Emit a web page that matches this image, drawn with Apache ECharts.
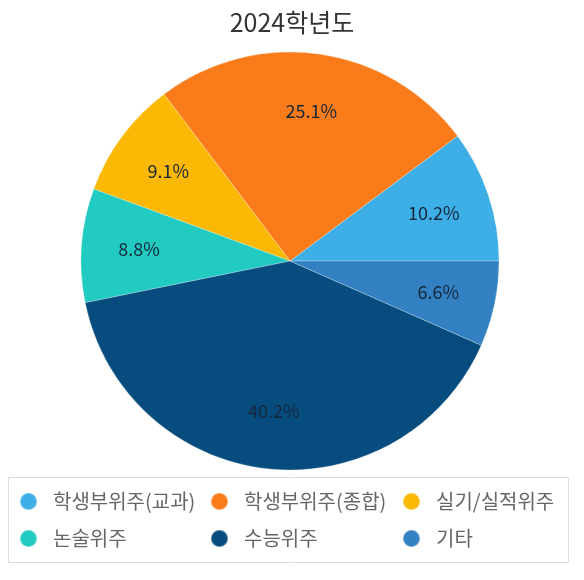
<!DOCTYPE html>
<html>
<head>
<meta charset="utf-8">
<script src="https://cdn.jsdelivr.net/npm/echarts@6/dist/echarts.min.js"></script>
<style>
html,body{margin:0;padding:0;background:#fff;}
#chartDiv{width:584px;height:580px;}
</style>
</head>
<body>
<div id="chartDiv"></div>
<script>
// 데이터
var categories = ['학생부위주(교과)', '학생부위주(종합)', '실기/실적위주', '논술위주', '수능위주', '기타'];
var values = [10.2, 25.1, 9.1, 8.8, 40.2, 6.6];
var colors = ['#3eaee6', '#f97b19', '#fbb905', '#22cbc1', '#064c7e', '#3381c2'];
var titleText = '2024학년도';

var fontName = '"Noto Sans CJK KR", "Noto Sans", sans-serif';

var pieData = [];
var labelData = [];
for (var i = 0; i < categories.length; i++) {
	pieData.push({ name: categories[i], value: values[i], itemStyle: { color: colors[i] } });
	labelData.push({ name: categories[i], value: values[i] });
}

// 범례 3열
function makeLegend(names, left) {
	return {
		orient: 'vertical',
		left: left,
		top: 487,
		itemGap: 8,
		itemWidth: 17,
		itemHeight: 17,
		icon: 'circle',
		padding: 0,
		data: names,
		textStyle: {
			fontFamily: fontName,
			fontSize: 20,
			color: '#666',
			lineHeight: 29,
			padding: [0, 0, 0, 11]
		}
	};
}

var myChart = echarts.init(document.getElementById('chartDiv'));
var option = {
	animation: false,
	title: {
		text: titleText,
		left: 'center',
		top: 5,
		textStyle: { fontFamily: fontName, fontSize: 25, fontWeight: 'normal', color: '#333' }
	},
	legend: [
		makeLegend([categories[0], categories[3]], 19),
		makeLegend([categories[1], categories[4]], 210),
		makeLegend([categories[2], categories[5]], 402)
	],
	graphic: [{
		type: 'rect',
		shape: { x: 8.5, y: 477.5, width: 560, height: 85 },
		style: { fill: 'none', stroke: '#ddd', lineWidth: 1 },
		silent: true
	}],
	series: [{
		type: 'pie',
		center: [290, 261],
		radius: [0, 209],
		startAngle: 0,
		clockwise: false,
		label: { show: false },
		labelLine: { show: false },
		itemStyle: { borderColor: 'rgba(255,255,255,0.25)', borderWidth: 1 },
		emphasis: { disabled: true },
		data: pieData
	}, {
		// 라벨 위치용 투명 시리즈
		type: 'pie',
		center: [290, 261],
		radius: [88, 209],
		startAngle: 0,
		clockwise: false,
		silent: true,
		itemStyle: { color: 'rgba(0,0,0,0)' },
		label: {
			show: true,
			position: 'inside',
			formatter: '{c}%',
			fontFamily: fontName,
			fontSize: 18,
			color: '#16273a'
		},
		labelLine: { show: false },
		emphasis: { disabled: true },
		data: labelData
	}]
};
myChart.setOption(option);
</script>
</body>
</html>
